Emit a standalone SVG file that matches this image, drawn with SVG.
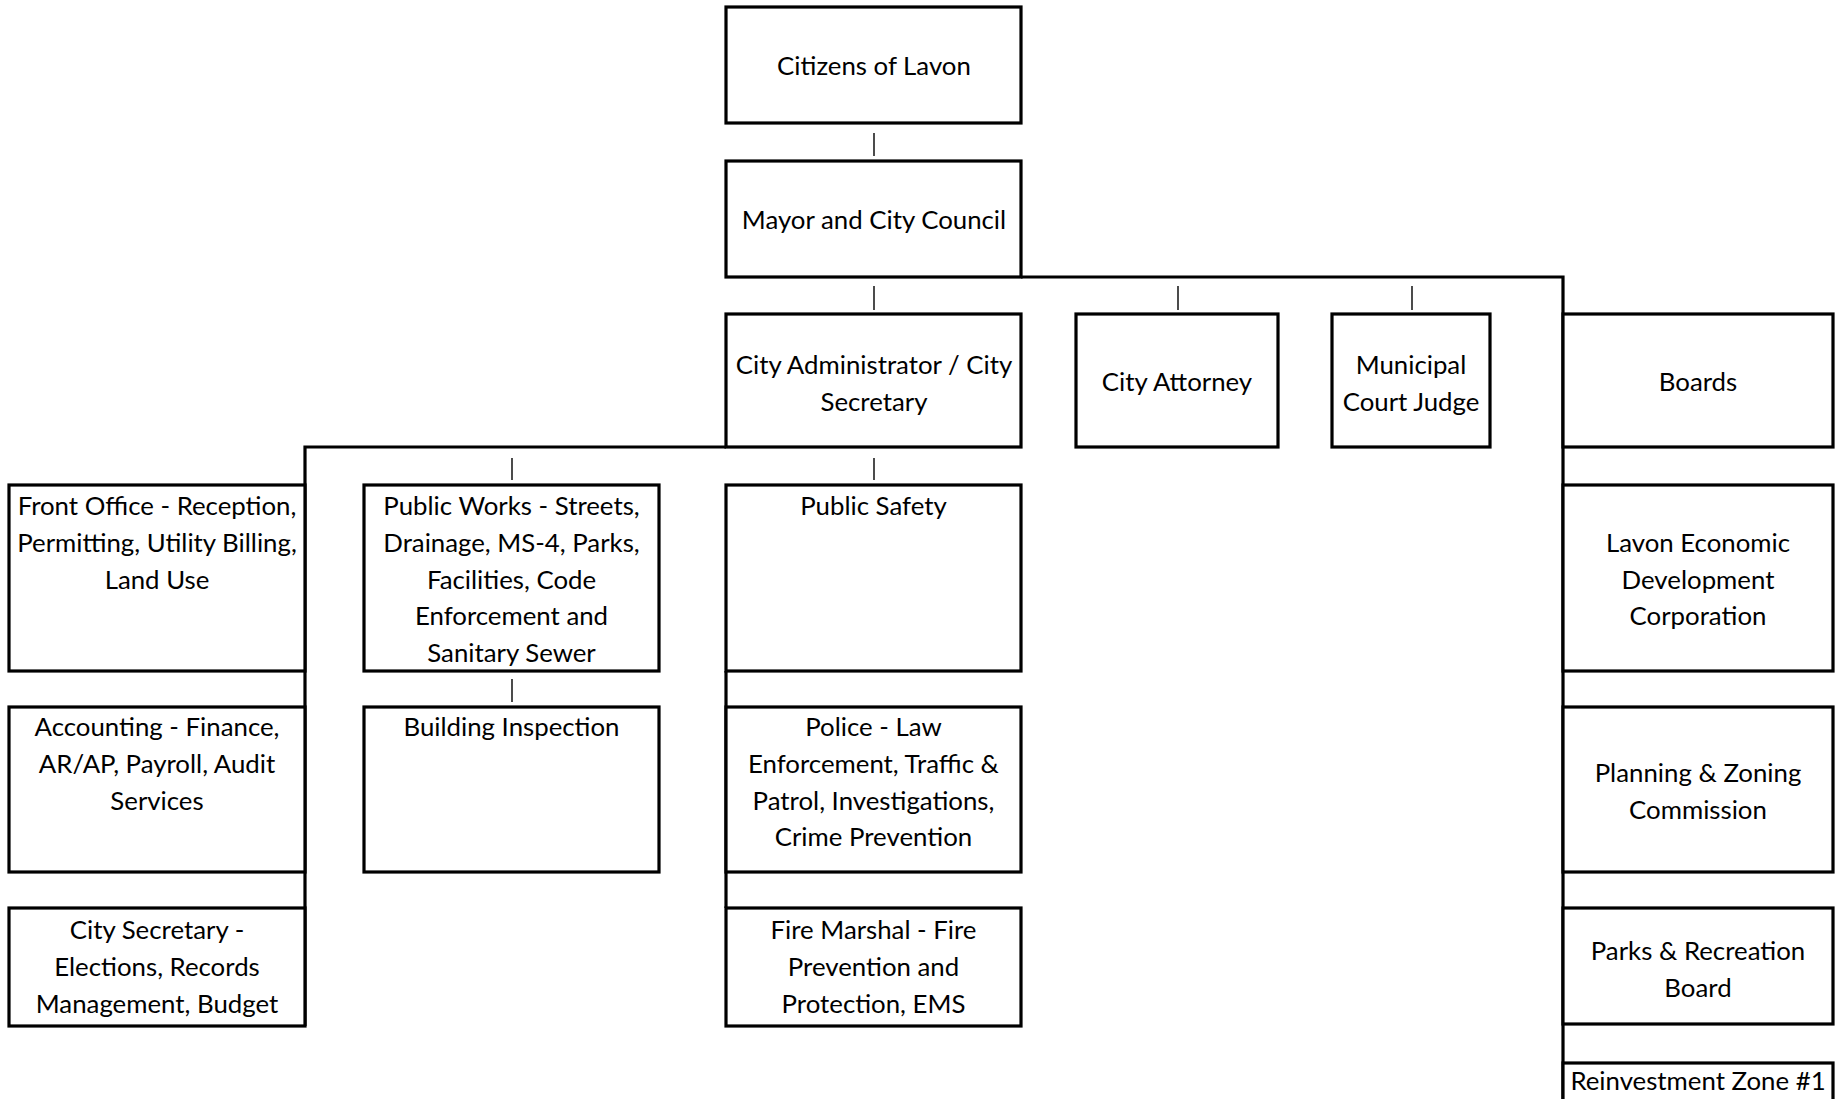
<svg xmlns="http://www.w3.org/2000/svg" width="1845" height="1099" viewBox="0 0 1845 1099">
<style>
.box{fill:#fff;stroke:#000;stroke-width:3.2}
.ln{fill:none;stroke:#000;stroke-width:3.2}
.tk{fill:none;stroke:#000;stroke-width:1.4}
text{font-family:Lato,"Open Sans","Liberation Sans",sans-serif;font-size:25.8px;fill:#000;text-anchor:middle}
</style>
<rect width="1845" height="1099" fill="#fff"/>
<g id="connectors">
<path class="ln" d="M1021,277 H1563 V1105"/>
<path class="ln" d="M726,447 H305 V1026"/>
<path class="ln" d="M726,671 V908"/>
<path class="tk" d="M874,133 V156 M874,286 V310 M1178,286 V310 M1412,286 V310 M512,458 V480 M874,458 V480 M512,679 V702"/>
</g>
<g id="citizens"><rect class="box" x="726" y="7" width="295" height="116"/><text x="874" y="75">Citizens of Lavon</text></g>
<g id="mayor"><rect class="box" x="726" y="161" width="295" height="116"/><text x="874" y="229">Mayor and City Council</text></g>
<g id="city-admin"><rect class="box" x="726" y="314" width="295" height="133"/><text x="874" y="374">City Administrator / City</text><text x="874" y="410.8">Secretary</text></g>
<g id="city-attorney"><rect class="box" x="1076" y="314" width="202" height="133"/><text x="1177" y="391">City Attorney</text></g>
<g id="municipal-judge"><rect class="box" x="1332" y="314" width="158" height="133"/><text x="1411" y="374">Municipal</text><text x="1411" y="410.8">Court Judge</text></g>
<g id="boards"><rect class="box" x="1563" y="314" width="270" height="133"/><text x="1698" y="391">Boards</text></g>
<g id="front-office"><rect class="box" x="9" y="485" width="296" height="186"/><text x="157" y="515">Front Office - Reception,</text><text x="157" y="551.8">Permitting, Utility Billing,</text><text x="157" y="588.6">Land Use</text></g>
<g id="public-works"><rect class="box" x="364" y="485" width="295" height="186"/><text x="511.5" y="515">Public Works - Streets,</text><text x="511.5" y="551.8">Drainage, MS-4, Parks,</text><text x="511.5" y="588.6">Facilities, Code</text><text x="511.5" y="625.4">Enforcement and</text><text x="511.5" y="662.2">Sanitary Sewer</text></g>
<g id="public-safety"><rect class="box" x="726" y="485" width="295" height="186"/><text x="873.5" y="515">Public Safety</text></g>
<g id="lavon-edc"><rect class="box" x="1563" y="485" width="270" height="186"/><text x="1698" y="551.8">Lavon Economic</text><text x="1698" y="588.6">Development</text><text x="1698" y="625.4">Corporation</text></g>
<g id="accounting"><rect class="box" x="9" y="707" width="296" height="165"/><text x="157" y="736">Accounting - Finance,</text><text x="157" y="772.8">AR/AP, Payroll, Audit</text><text x="157" y="809.6">Services</text></g>
<g id="building-inspection"><rect class="box" x="364" y="707" width="295" height="165"/><text x="511.5" y="736">Building Inspection</text></g>
<g id="police"><rect class="box" x="726" y="707" width="295" height="165"/><text x="873.5" y="736">Police - Law</text><text x="873.5" y="772.8">Enforcement, Traffic &amp;</text><text x="873.5" y="809.6">Patrol, Investigations,</text><text x="873.5" y="846.4">Crime Prevention</text></g>
<g id="planning-zoning"><rect class="box" x="1563" y="707" width="270" height="165"/><text x="1698" y="782">Planning &amp; Zoning</text><text x="1698" y="818.8">Commission</text></g>
<g id="city-secretary"><rect class="box" x="9" y="908" width="296" height="118"/><text x="157" y="939">City Secretary -</text><text x="157" y="975.8">Elections, Records</text><text x="157" y="1012.6">Management, Budget</text></g>
<g id="fire-marshal"><rect class="box" x="726" y="908" width="295" height="118"/><text x="873.5" y="939">Fire Marshal - Fire</text><text x="873.5" y="975.8">Prevention and</text><text x="873.5" y="1012.6">Protection, EMS</text></g>
<g id="parks-rec"><rect class="box" x="1563" y="908" width="270" height="116"/><text x="1698" y="960">Parks &amp; Recreation</text><text x="1698" y="996.8">Board</text></g>
<g id="reinvestment-zone"><rect class="box" x="1563" y="1063" width="270" height="60"/><text x="1698" y="1090">Reinvestment Zone #1</text></g>
</svg>
